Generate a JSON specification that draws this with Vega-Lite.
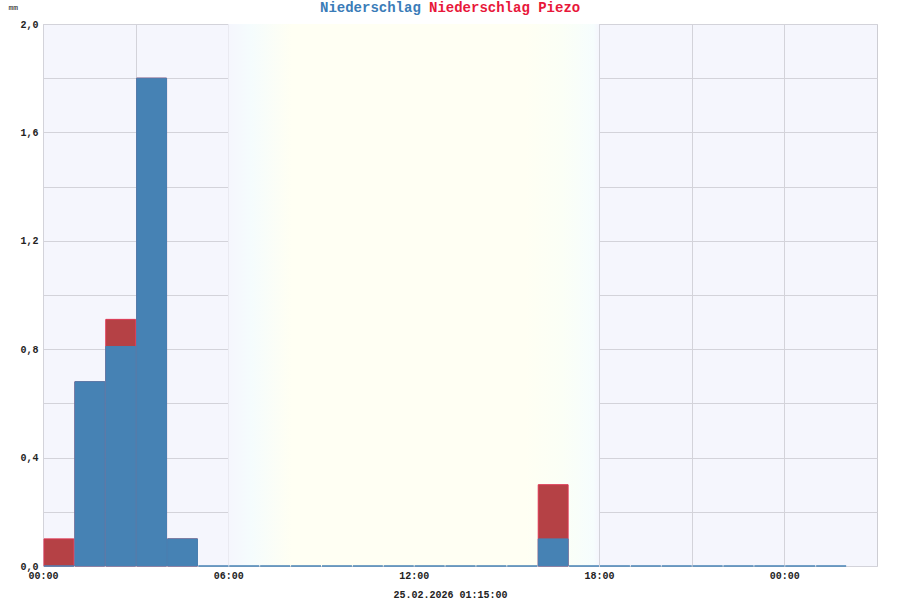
{
  "$schema": "https://vega.github.io/schema/vega-lite/v6.json",
  "autosize": "none",
  "width": 834,
  "height": 542,
  "padding": {"left": 43, "top": 24, "right": 23, "bottom": 34},
  "background": "white",
  "config": {
    "view": {"fill": "#f5f6fd", "stroke": "#cdcdd3", "strokeWidth": 1},
    "font": "Liberation Mono",
    "axis": {
      "labelFont": "Liberation Mono",
      "labelFontWeight": "bold",
      "labelFontSize": 10,
      "labelColor": "#222222",
      "gridColor": "#d3d3da",
      "gridOpacity": 1,
      "domain": false,
      "ticks": false
    }
  },
  "datasets": {
    "rain": [
      {"t": "2026-02-24T00:00", "series": "Niederschlag Piezo", "mm": 0.1},
      {"t": "2026-02-24T01:00", "series": "Niederschlag Piezo", "mm": 0.68},
      {"t": "2026-02-24T02:00", "series": "Niederschlag Piezo", "mm": 0.91},
      {"t": "2026-02-24T03:00", "series": "Niederschlag Piezo", "mm": 1.8},
      {"t": "2026-02-24T04:00", "series": "Niederschlag Piezo", "mm": 0.1},
      {"t": "2026-02-24T16:00", "series": "Niederschlag Piezo", "mm": 0.3},
      {"t": "2026-02-24T00:00", "series": "Niederschlag", "mm": 0},
      {"t": "2026-02-24T01:00", "series": "Niederschlag", "mm": 0.68},
      {"t": "2026-02-24T02:00", "series": "Niederschlag", "mm": 0.81},
      {"t": "2026-02-24T03:00", "series": "Niederschlag", "mm": 1.8},
      {"t": "2026-02-24T04:00", "series": "Niederschlag", "mm": 0.1},
      {"t": "2026-02-24T05:00", "series": "Niederschlag", "mm": 0},
      {"t": "2026-02-24T06:00", "series": "Niederschlag", "mm": 0},
      {"t": "2026-02-24T07:00", "series": "Niederschlag", "mm": 0},
      {"t": "2026-02-24T08:00", "series": "Niederschlag", "mm": 0},
      {"t": "2026-02-24T09:00", "series": "Niederschlag", "mm": 0},
      {"t": "2026-02-24T10:00", "series": "Niederschlag", "mm": 0},
      {"t": "2026-02-24T11:00", "series": "Niederschlag", "mm": 0},
      {"t": "2026-02-24T12:00", "series": "Niederschlag", "mm": 0},
      {"t": "2026-02-24T13:00", "series": "Niederschlag", "mm": 0},
      {"t": "2026-02-24T14:00", "series": "Niederschlag", "mm": 0},
      {"t": "2026-02-24T15:00", "series": "Niederschlag", "mm": 0},
      {"t": "2026-02-24T16:00", "series": "Niederschlag", "mm": 0.1},
      {"t": "2026-02-24T17:00", "series": "Niederschlag", "mm": 0},
      {"t": "2026-02-24T18:00", "series": "Niederschlag", "mm": 0},
      {"t": "2026-02-24T19:00", "series": "Niederschlag", "mm": 0},
      {"t": "2026-02-24T20:00", "series": "Niederschlag", "mm": 0},
      {"t": "2026-02-24T21:00", "series": "Niederschlag", "mm": 0},
      {"t": "2026-02-24T22:00", "series": "Niederschlag", "mm": 0},
      {"t": "2026-02-24T23:00", "series": "Niederschlag", "mm": 0},
      {"t": "2026-02-25T00:00", "series": "Niederschlag", "mm": 0},
      {"t": "2026-02-25T01:00", "series": "Niederschlag", "mm": 0}
    ],
    "daylight": [
      {"start": "2026-02-24T06:00", "end": "2026-02-24T18:00"}
    ]
  },
  "layer": [
    {
      "data": {"name": "daylight"},
      "mark": {
        "type": "rect",
        "fill": {
          "gradient": "linear",
          "x1": 0, "y1": 0, "x2": 1, "y2": 0,
          "stops": [
            {"offset": 0, "color": "#f5f6fd"},
            {"offset": 0.06, "color": "#f5fcfd"},
            {"offset": 0.17, "color": "#fffff3"},
            {"offset": 0.8, "color": "#fffff3"},
            {"offset": 0.9, "color": "#fbfff6"},
            {"offset": 0.985, "color": "#f6fdfd"},
            {"offset": 1, "color": "#f5f6fd"}
          ]
        }
      },
      "encoding": {
        "x": {"field": "start", "type": "temporal"},
        "x2": {"field": "end"}
      }
    },
    {
      "data": {"name": "rain"},
      "transform": [{"filter": "datum.series == 'Niederschlag Piezo'"}],
      "mark": {"type": "bar", "stroke": "#dc3550", "strokeWidth": 1},
      "encoding": {
        "x": {
          "field": "t",
          "type": "temporal",
          "timeUnit": "yearmonthdatehours",
          "scale": {
            "domain": [
              {"year": 2026, "month": 2, "date": 24, "hours": 0},
              {"year": 2026, "month": 2, "date": 25, "hours": 3}
            ]
          },
          "axis": {
            "values": [
              {"year": 2026, "month": 2, "date": 24, "hours": 0},
              {"year": 2026, "month": 2, "date": 24, "hours": 3},
              {"year": 2026, "month": 2, "date": 24, "hours": 6},
              {"year": 2026, "month": 2, "date": 24, "hours": 9},
              {"year": 2026, "month": 2, "date": 24, "hours": 12},
              {"year": 2026, "month": 2, "date": 24, "hours": 15},
              {"year": 2026, "month": 2, "date": 24, "hours": 18},
              {"year": 2026, "month": 2, "date": 24, "hours": 21},
              {"year": 2026, "month": 2, "date": 25, "hours": 0}
            ],
            "labelExpr": "hours(datum.value) % 6 == 0 ? timeFormat(datum.value, '%H:%M') : ''",
            "labelPadding": 4,
            "labelFlush": false,
            "title": "25.02.2026 01:15:00",
            "titleFont": "Liberation Mono",
            "titleFontWeight": "bold",
            "titleFontSize": 10,
            "titleColor": "#222222",
            "titleX": 407,
            "titleY": 31,
            "titleBaseline": "alphabetic"
          }
        },
        "y": {
          "field": "mm",
          "type": "quantitative",
          "stack": null,
          "scale": {"domain": [0, 2], "nice": false},
          "axis": {
            "values": [0, 0.2, 0.4, 0.6, 0.8, 1.0, 1.2, 1.4, 1.6, 1.8, 2.0],
            "labelExpr": "round(datum.value * 10) % 4 == 0 ? replace(format(datum.value, '.1f'), '.', ',') : ''",
            "labelPadding": 5,
            "labelFlush": false,
            "title": "mm",
            "titleAngle": 0,
            "titleFont": "Liberation Mono",
            "titleFontSize": 8,
            "titleFontWeight": "normal",
            "titleColor": "#222222",
            "titleAlign": "left",
            "titleBaseline": "alphabetic",
            "titleX": -35,
            "titleY": -15
          }
        },
        "color": {
          "field": "series",
          "type": "nominal",
          "scale": {"domain": ["Niederschlag", "Niederschlag Piezo"], "range": ["#4682b4", "#b54145"]},
          "legend": {
            "orient": "none",
            "legendX": 277,
            "legendY": -23,
            "padding": 0,
            "direction": "horizontal",
            "values": ["Niederschlag Piezo"],
            "title": "Niederschlag",
            "titleOrient": "left",
            "titleColor": "#3a7cb8",
            "titleFont": "Liberation Mono",
            "titleFontWeight": "bold",
            "titleFontSize": 14,
            "titlePadding": 8,
            "titleBaseline": "middle",
            "symbolSize": 0,
            "symbolStrokeWidth": 0,
            "symbolOpacity": 0,
            "labelOffset": -14,
            "labelColor": "#e8173a",
            "labelFont": "Liberation Mono",
            "labelFontWeight": "bold",
            "labelFontSize": 14
          }
        }
      }
    },
    {
      "data": {"name": "rain"},
      "transform": [{"filter": "datum.series == 'Niederschlag'"}],
      "mark": {"type": "bar", "stroke": "#4682b4", "strokeWidth": 1},
      "encoding": {
        "x": {"field": "t", "type": "temporal", "timeUnit": "yearmonthdatehours"},
        "y": {"field": "mm", "type": "quantitative", "stack": null},
        "color": {"field": "series", "type": "nominal"}
      }
    }
  ]
}
